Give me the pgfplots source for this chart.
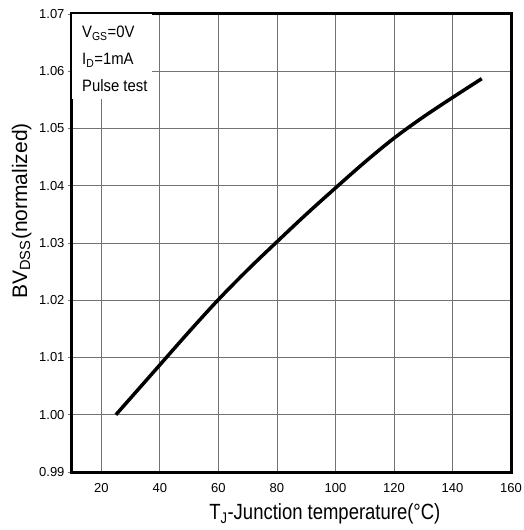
\documentclass[border=0pt]{standalone}
\usepackage{fontspec}
\setmainfont{Liberation Sans}
\newfontfamily\labfont[FakeStretch=0.84]{Liberation Sans}
\newfontfamily\notefont[FakeStretch=0.9]{Liberation Sans}
\usepackage{pgfplots}
\pgfplotsset{compat=1.18}

\begin{document}
\begin{tikzpicture}
\begin{axis}[
  name=ax,
  scale only axis,
  width=439pt, height=458pt,
  xmin=10, xmax=160,
  ymin=0.99, ymax=1.07,
  xtick={20,40,...,160},
  ytick={0.99,1.00,...,1.07},
  yticklabel style={/pgf/number format/.cd, fixed, fixed zerofill, precision=2},
  /pgf/number format/assume math mode=true,
  tick label style={font=\fontsize{13}{15}\selectfont},
  xticklabel style={yshift=-4pt},
  grid=major,
  grid style={line width=0.7pt, draw=black!55},
  axis line style={line width=3pt},
  x tick style={draw=none},
  y tick style={line width=0.7pt, black!55},
  tick align=outside,
  ytick pos=left,
  major tick length=4pt,
  xlabel={\labfont\fontsize{22}{24}\selectfont T\textsubscript{J}-Junction temperature(\char"00B0 C)},
  ylabel={\fontsize{21}{24}\selectfont BV\textsubscript{DSS}(normalized)},
  xlabel style={at={(axis description cs:0.576,-0.1048)}, anchor=base},
  ylabel style={at={(axis description cs:-0.1025,0.57)}, anchor=base},
]
\addplot[line width=3.5pt, black, smooth, tension=0.55] coordinates {
  (25,1.0000) (30,1.0029) (40,1.0087) (50,1.0145) (60,1.0201)
  (70,1.0253) (80,1.0302) (90,1.0350) (100,1.0396) (110,1.0441)
  (120,1.0483) (130,1.0520) (140,1.0554) (150,1.0587)
};
\node[fill=white, anchor=north west, inner sep=0pt,
      minimum width=80pt, minimum height=85pt] at (rel axis cs:0,1) {};
\node[anchor=north west, align=left, inner sep=0pt,
      font=\notefont\fontsize{16.5}{27}\selectfont]
  at ([xshift=10pt,yshift=-12pt]rel axis cs:0,1)
  {V\textsubscript{GS}=0V\\ I\textsubscript{D}=1mA\\ Pulse test};
\end{axis}
\pgfresetboundingbox
\path[use as bounding box] ([xshift=-72pt,yshift=-58pt]ax.south west)
  rectangle ([xshift=12pt,yshift=14pt]ax.north east);
\end{tikzpicture}
\end{document}
